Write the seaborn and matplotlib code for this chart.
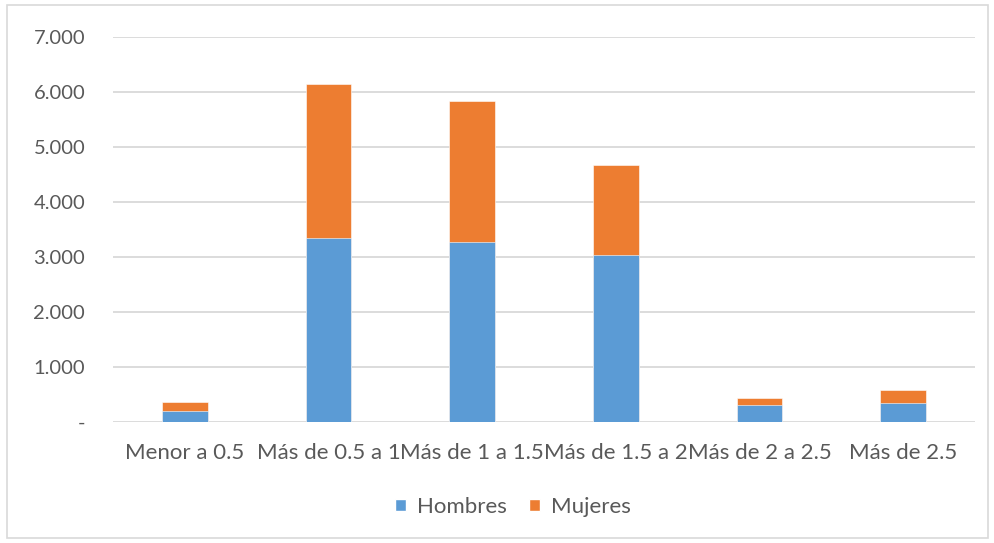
import matplotlib
matplotlib.use("Agg")
import matplotlib.pyplot as plt
import seaborn as sns
import pandas as pd
from matplotlib.patches import Rectangle, Patch
from matplotlib.ticker import FuncFormatter

categories = ["Menor a 0.5", "Más de 0.5 a 1", "Más de 1 a 1.5",
              "Más de 1.5 a 2", "Más de 2 a 2.5", "Más de 2.5"]
hombres = [200, 3335, 3267, 3025, 298, 340]
mujeres = [165, 2800, 2564, 1640, 140, 236]
series_names = ["Hombres", "Mujeres"]
yticks = [0, 1000, 2000, 3000, 4000, 5000, 6000, 7000]

blue = "#5B9BD5"
orange = "#ED7D31"
text_col = "#595959"
grid_col = "#D9D9D9"

sns.set_theme(style="white")
plt.rcParams['font.family'] = ['Lato', 'DejaVu Sans']

df = pd.DataFrame({"cat": categories, "Hombres": hombres, "Mujeres": mujeres})
df["total"] = df["Hombres"] + df["Mujeres"]

fig = plt.figure(figsize=(9.95, 5.43), dpi=100)
ax = fig.add_axes([113/995, 1 - 421.7/543, (975-113)/995, (421.7-36.7)/543])

sns.barplot(data=df, x="cat", y="total", color=orange, width=0.32, ax=ax,
            saturation=1, edgecolor="white", linewidth=0.4, zorder=3)
sns.barplot(data=df, x="cat", y="Hombres", color=blue, width=0.32, ax=ax,
            saturation=1, edgecolor="white", linewidth=0.4, zorder=3)

ax.set_ylim(0, 7000)
ax.set_xlim(-0.5, len(categories) - 0.5)
ax.set_yticks(yticks)
ax.yaxis.set_major_formatter(FuncFormatter(
    lambda v, p: "-" if v == 0 else f"{int(v):,}".replace(",", ".")))
ax.grid(axis="y", color=grid_col, linewidth=1.3, zorder=0)
ax.set_axisbelow(True)
for s in ax.spines.values():
    s.set_visible(False)
ax.set_xlabel("")
ax.set_ylabel("")
ax.tick_params(axis="both", length=0, colors=text_col)
ax.tick_params(axis="y", pad=20, labelsize=14.5)
ax.tick_params(axis="x", pad=15, labelsize=16)
for lbl in ax.get_yticklabels():
    lbl.set_horizontalalignment("right")

handles = [Patch(facecolor=blue, label=series_names[0]),
           Patch(facecolor=orange, label=series_names[1])]
leg = fig.legend(handles=handles, loc="center", bbox_to_anchor=(513/995, 1 - 507/543),
                 ncol=2, frameon=False, fontsize=16, handlelength=0.5,
                 handleheight=0.5, handletextpad=0.5, columnspacing=1.0,
                 borderaxespad=0, borderpad=0)
for t in leg.get_texts():
    t.set_color(text_col)

fig.patches.append(Rectangle((7/995, 5/543), 1 - 14/995, 1 - 10/543,
                             transform=fig.transFigure, fill=False,
                             edgecolor="#D9D9D9", linewidth=1.2))

fig.savefig("out.png", dpi=100, facecolor="white")
